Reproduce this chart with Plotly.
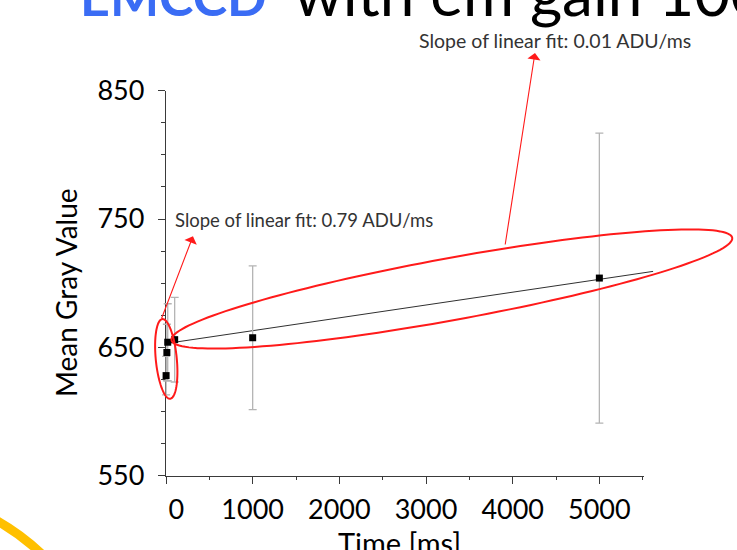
import numpy as np
import plotly.graph_objects as go

W, H = 737, 550

# ---- measurements -------------------------------------------------------
time_ms = [1, 10, 20, 100, 1000, 5000]
mean_gray = [628, 646, 654, 656, 657.5, 704]
gray_err = [15, 22, 30, 33, 56, 113]

# linear fit over the long exposures
fit_intercept = 653.0
fit_slope = 0.01          # ADU/ms
fit_span = [20, 5620]

# ---- axes ----------------------------------------------------------------
x_range = [0, 5515]
y_range = [550, 850]
x_ticks = [0, 1000, 2000, 3000, 4000, 5000]
x_ticktext = ["\u00a0\u00a0\u00a00", "1000", "2000", "3000", "4000", "5000"]
y_ticks = [550, 650, 750, 850]
y_ticktext = ["550", "650", "750", "850"]

# plotting box on the page (pixels from top-left)
box_l, box_r, box_t, box_b = 166, 644, 90.7, 475.7

FONT = "Lato"
AX_COL = "#3a3a3a"
RED = "#ff1a1a"

xd = [box_l / W, box_r / W]
yd = [1 - box_b / H, 1 - box_t / H]


def stretch(rng, dom):
    """Range of a full-page axis sharing the scale of rng on domain dom."""
    span = (rng[1] - rng[0]) / (dom[1] - dom[0])
    return [rng[0] - dom[0] * span, rng[1] + (1 - dom[1]) * span]


kx = (box_r - box_l) / (x_range[1] - x_range[0])   # px per ms
ky = (box_b - box_t) / (y_range[1] - y_range[0])   # px per ADU


def px(x):
    return x / W


def py(y):
    return 1 - y / H


def ellipse_path(cx, cy, a_px, b_px, ang_deg, n=160):
    t = np.linspace(0, 2 * np.pi, n)
    phi = np.radians(ang_deg)
    dx = a_px * np.cos(t) * np.cos(phi) - b_px * np.sin(t) * np.sin(phi)
    dy = a_px * np.cos(t) * np.sin(phi) + b_px * np.sin(t) * np.cos(phi)
    xs = cx + dx / kx
    ys = cy + dy / ky
    pts = [f"{x:.3f},{y:.3f}" for x, y in zip(xs, ys)]
    return "M" + " L".join(pts) + " Z"


fig = go.Figure()

# placeholder so the framed axes get drawn
fig.add_trace(go.Scatter(x=[None], y=[None], xaxis="x", yaxis="y",
                         mode="markers", hoverinfo="skip"))

fit_x = np.array(fit_span, dtype=float)
fig.add_trace(go.Scatter(
    x=fit_x, y=fit_intercept + fit_slope * fit_x,
    mode="lines", line=dict(color="#303030", width=1),
    xaxis="x2", yaxis="y2", hoverinfo="skip",
))

fig.add_trace(go.Scatter(
    x=time_ms, y=mean_gray, mode="markers",
    marker=dict(symbol="square", size=7, color="black"),
    error_y=dict(type="data", array=gray_err, color="#b4b4b4",
                 thickness=1.3, width=4),
    xaxis="x2", yaxis="y2", cliponaxis=False,
))

shapes = [
    # short-exposure group
    dict(type="path", xref="x2", yref="y2",
         path=ellipse_path(3, 641, 40, 10.5, 95.6),
         line=dict(color=RED, width=2)),
    # long-exposure group
    dict(type="path", xref="x2", yref="y2",
         path=ellipse_path(3298, 695.5, 285, 31, 10.35),
         line=dict(color=RED, width=2)),
    # slide decoration arc
    dict(type="path", xref="paper", yref="paper",
         path=f"M{px(-10)},{py(517)} Q{px(21)},{py(533)} {px(48)},{py(560)}",
         line=dict(color="#FFC000", width=9)),
]

annotations = [
    # slide title
    dict(text="<b>EMCCD</b>", x=px(78), y=py(17 + 0.213 * 52 + 1),
         xref="paper", yref="paper", xanchor="left", yanchor="bottom",
         showarrow=False, font=dict(family=FONT, size=52, color="#3a6cf4")),
    dict(text="with em gain 100", x=px(292), y=py(17 + 0.213 * 62 + 1),
         xref="paper", yref="paper", xanchor="left", yanchor="bottom",
         showarrow=False, font=dict(family=FONT, size=62, color="black")),
    # axis titles
    dict(text="Mean Gray Value", x=px(66), y=py(293), textangle=-90,
         xref="paper", yref="paper", xanchor="center", yanchor="middle",
         showarrow=False, font=dict(family=FONT, size=28, color="black")),
    dict(text="Time [ms]", x=px(399), y=py(523),
         xref="paper", yref="paper", xanchor="center", yanchor="top",
         showarrow=False, font=dict(family=FONT, size=29, color="black")),
    # slope labels
    dict(text="Slope of linear fit: 0.01 ADU/ms", x=px(555), y=py(40),
         xref="paper", yref="paper", xanchor="center", yanchor="middle",
         showarrow=False, font=dict(family=FONT, size=19.5, color="#333333")),
    dict(text="Slope of linear fit: 0.79 ADU/ms", x=px(304), y=py(220),
         xref="paper", yref="paper", xanchor="center", yanchor="middle",
         showarrow=False, font=dict(family=FONT, size=18.5, color="#333333")),
    # arrows from the ellipses to the labels
    dict(text="", x=311, y=736.6, ax=-58, ay=671.3,
         xref="x2", yref="y2", axref="x2", ayref="y2",
         showarrow=True, arrowhead=1, arrowsize=2, arrowwidth=1.1,
         arrowcolor=RED, standoff=0, startstandoff=0),
    dict(text="", x=4257, y=879.4, ax=3911, ay=729,
         xref="x2", yref="y2", axref="x2", ayref="y2",
         showarrow=True, arrowhead=1, arrowsize=2, arrowwidth=1.1,
         arrowcolor=RED, standoff=0, startstandoff=0),
]

axis_common = dict(
    showgrid=False, zeroline=False, showline=True, automargin=False,
    linecolor=AX_COL, linewidth=1.3,
    ticks="outside", ticklen=7, tickwidth=1.3, tickcolor=AX_COL,
    tickfont=dict(family=FONT, size=27, color="black"),
)

fig.update_layout(
    width=W, height=H,
    margin=dict(l=0, r=0, t=0, b=0, pad=0, autoexpand=False),
    paper_bgcolor="white", plot_bgcolor="rgba(0,0,0,0)",
    showlegend=False,
    xaxis=dict(domain=xd, range=x_range, anchor="y",
               tickmode="array", tickvals=x_ticks, ticktext=x_ticktext,
               minor=dict(dtick=500, tick0=0, ticks="outside", ticklen=3.5,
                          tickwidth=1.3, tickcolor=AX_COL),
               ticklabelstandoff=3,
               **axis_common),
    yaxis=dict(domain=yd, range=y_range, anchor="x",
               tickmode="array", tickvals=y_ticks, ticktext=y_ticktext,
               minor=dict(dtick=25, tick0=550, ticks="outside", ticklen=3.5,
                          tickwidth=1.3, tickcolor=AX_COL),
               ticklabelstandoff=8,
               **axis_common),
    xaxis2=dict(domain=[0, 1], range=stretch(x_range, xd), anchor="y2",
                visible=False, automargin=False),
    yaxis2=dict(domain=[0, 1], range=stretch(y_range, yd), anchor="x2",
                visible=False, automargin=False),
    shapes=shapes,
    annotations=annotations,
)

fig.write_html("out.html")
